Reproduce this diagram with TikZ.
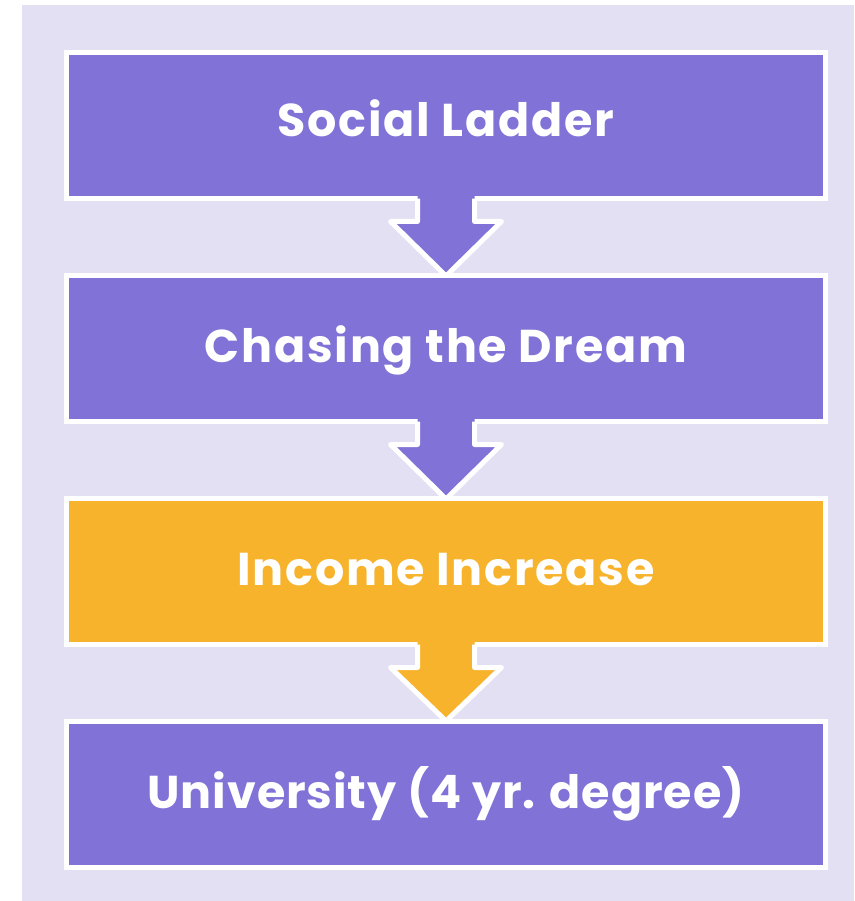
\documentclass[tikz,border=0pt]{standalone}
\usepackage{fontspec}
\setmainfont{Poppins}
\definecolor{bgc}{RGB}{227,224,244}
\definecolor{purp}{RGB}{128,114,214}
\definecolor{gold}{RGB}{247,179,43}
\begin{document}
\begin{tikzpicture}[x=1pt,y=-1pt,
  box/.style={draw=white,line width=5pt,minimum width=759pt,minimum height=146pt,inner sep=0pt},
  lbl/.style={text=white,font=\fontsize{46}{50}\selectfont\bfseries\addfontfeatures{LetterSpace=3.8},anchor=base,inner sep=0pt},
  arr/.style={line width=5pt,draw=white,line join=round}]
\useasboundingbox (0,0) rectangle (854,901);
\fill[bgc] (22,5) rectangle (854,901);
% boxes and arrows
\node[box,fill=purp] (b1) at (446,125.7) {};
\node[lbl] (t1) at (446,137) {Social Ladder};
\fill[purp] (417.5,189) -- (417.5,221.5) -- (390.5,221.5) -- (446,276) -- (501.5,221.5) -- (474.5,221.5) -- (474.5,189) -- cycle;
\draw[arr] (417.5,198.7) -- (417.5,221.5) -- (390.5,221.5) -- (446,276) -- (501.5,221.5) -- (474.5,221.5) -- (474.5,198.7);
\node[box,fill=purp] (b2) at (446,348.7) {};
\node[lbl] (t2) at (446,362.5) {Chasing the Dream};
\fill[purp] (417.5,412) -- (417.5,444.5) -- (390.5,444.5) -- (446,499) -- (501.5,444.5) -- (474.5,444.5) -- (474.5,412) -- cycle;
\draw[arr] (417.5,421.7) -- (417.5,444.5) -- (390.5,444.5) -- (446,499) -- (501.5,444.5) -- (474.5,444.5) -- (474.5,421.7);
\node[box,fill=gold] (b3) at (446,571.7) {};
\node[lbl] (t3) at (446,585.5) {Income Increase};
\fill[gold] (417.5,635) -- (417.5,667.5) -- (390.5,667.5) -- (446,721) -- (501.5,667.5) -- (474.5,667.5) -- (474.5,635) -- cycle;
\draw[arr] (417.5,644.7) -- (417.5,667.5) -- (390.5,667.5) -- (446,721) -- (501.5,667.5) -- (474.5,667.5) -- (474.5,644.7);
\node[box,fill=purp] (b4) at (446,794) {};
\node[lbl,font=\fontsize{46}{50}\selectfont\bfseries\addfontfeatures{LetterSpace=2}] (t4) at (446,808) {University (4 yr. degree)};
\end{tikzpicture}
\end{document}
